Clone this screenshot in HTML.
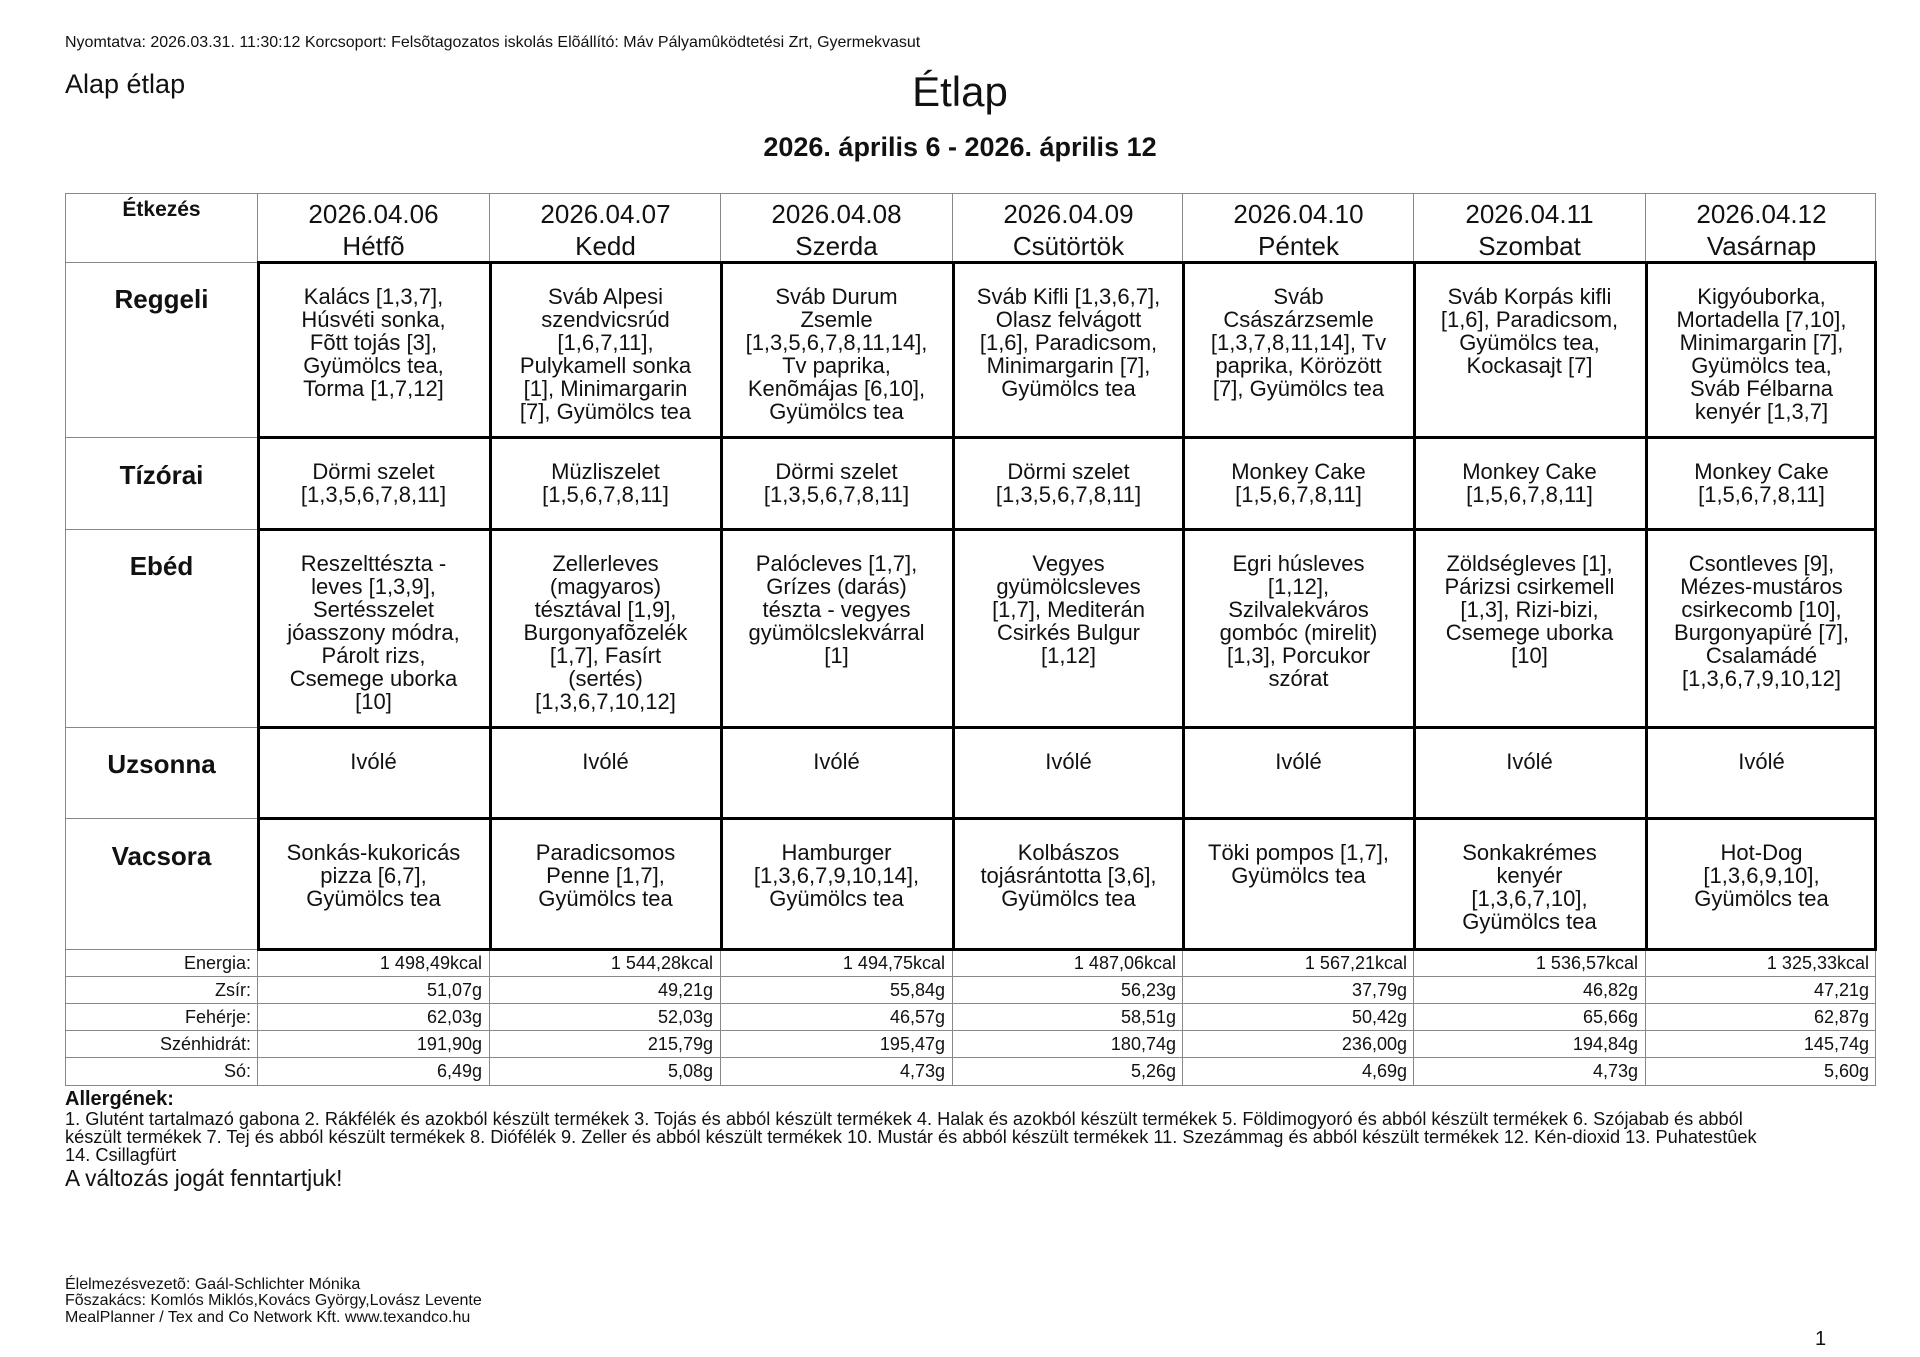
<!DOCTYPE html>
<html><head><meta charset="utf-8">
<style>
*{margin:0;padding:0;box-sizing:border-box}
body{width:1920px;height:1357px;background:#fff;position:relative;overflow:hidden;font-family:"Liberation Sans",Arial,sans-serif;color:#111}
.a{position:absolute;white-space:nowrap}
.c{position:absolute;text-align:center;font-size:22px;line-height:23px;white-space:nowrap}
.l{position:absolute;text-align:center;font-weight:bold;font-size:26px;width:193px;left:65px}
.h{position:absolute;text-align:center;font-size:26px;line-height:32px;width:231px;top:198px}
.n{position:absolute;font-size:18px;line-height:27px;text-align:right;white-space:nowrap}
.g{position:absolute;background:#888}
.b{position:absolute;background:#000}
</style></head><body>
<div class="a" style="left:65px;top:34px;font-size:16px">Nyomtatva: 2026.03.31. 11:30:12 Korcsoport: Felsõtagozatos iskolás Elõállító: Máv Pályamûködtetési Zrt, Gyermekvasut</div>
<div class="a" style="left:65px;top:69px;font-size:27px">Alap étlap</div>
<div class="a" style="left:0;width:1920px;text-align:center;top:68px;font-size:42px">Étlap</div>
<div class="a" style="left:0;width:1920px;text-align:center;top:132px;font-size:27px;font-weight:bold">2026. április 6 - 2026. április 12</div>

<div class="g" style="left:65px;top:193px;width:1811px;height:1px"></div>
<div class="g" style="left:65px;top:262px;width:193px;height:1px"></div>
<div class="g" style="left:65px;top:437px;width:193px;height:1px"></div>
<div class="g" style="left:65px;top:529px;width:193px;height:1px"></div>
<div class="g" style="left:65px;top:727px;width:193px;height:1px"></div>
<div class="g" style="left:65px;top:818px;width:193px;height:1px"></div>
<div class="g" style="left:65px;top:949px;width:1811px;height:1px"></div>
<div class="g" style="left:65px;top:976px;width:1811px;height:1px"></div>
<div class="g" style="left:65px;top:1003px;width:1811px;height:1px"></div>
<div class="g" style="left:65px;top:1030px;width:1811px;height:1px"></div>
<div class="g" style="left:65px;top:1057px;width:1811px;height:1px"></div>
<div class="g" style="left:65px;top:1085px;width:1811px;height:1px"></div>
<div class="g" style="left:65px;top:193px;width:1px;height:893px"></div>
<div class="g" style="left:257px;top:193px;width:1px;height:893px"></div>
<div class="g" style="left:489px;top:193px;width:1px;height:893px"></div>
<div class="g" style="left:720px;top:193px;width:1px;height:893px"></div>
<div class="g" style="left:952px;top:193px;width:1px;height:893px"></div>
<div class="g" style="left:1182px;top:193px;width:1px;height:893px"></div>
<div class="g" style="left:1413px;top:193px;width:1px;height:893px"></div>
<div class="g" style="left:1645px;top:193px;width:1px;height:893px"></div>
<div class="g" style="left:1875px;top:193px;width:1px;height:893px"></div>
<div class="b" style="left:257px;top:261px;width:1620px;height:3px"></div>
<div class="b" style="left:257px;top:436px;width:1620px;height:3px"></div>
<div class="b" style="left:257px;top:528px;width:1620px;height:3px"></div>
<div class="b" style="left:257px;top:726px;width:1620px;height:3px"></div>
<div class="b" style="left:257px;top:817px;width:1620px;height:3px"></div>
<div class="b" style="left:257px;top:948px;width:1620px;height:3px"></div>
<div class="b" style="left:257px;top:261px;width:3px;height:690px"></div>
<div class="b" style="left:489px;top:261px;width:3px;height:690px"></div>
<div class="b" style="left:720px;top:261px;width:3px;height:690px"></div>
<div class="b" style="left:952px;top:261px;width:3px;height:690px"></div>
<div class="b" style="left:1182px;top:261px;width:3px;height:690px"></div>
<div class="b" style="left:1413px;top:261px;width:3px;height:690px"></div>
<div class="b" style="left:1645px;top:261px;width:3px;height:690px"></div>
<div class="b" style="left:1874px;top:261px;width:3px;height:690px"></div>

<div class="l" style="top:198px;font-size:21px">Étkezés</div>
<div class="h" style="left:258px">2026.04.06<br>Hétfõ</div>
<div class="h" style="left:490px">2026.04.07<br>Kedd</div>
<div class="h" style="left:721px">2026.04.08<br>Szerda</div>
<div class="h" style="left:953px">2026.04.09<br>Csütörtök</div>
<div class="h" style="left:1183px">2026.04.10<br>Péntek</div>
<div class="h" style="left:1414px">2026.04.11<br>Szombat</div>
<div class="h" style="left:1646px">2026.04.12<br>Vasárnap</div>

<div class="l" style="top:284px">Reggeli</div>
<div class="l" style="top:460px">Tízórai</div>
<div class="l" style="top:551px">Ebéd</div>
<div class="l" style="top:749px">Uzsonna</div>
<div class="l" style="top:841px">Vacsora</div>

<div class="c" style="left:258px;width:231px;top:285px">Kalács [1,3,7],<br>Húsvéti sonka,<br>Fõtt tojás [3],<br>Gyümölcs tea,<br>Torma [1,7,12]</div>
<div class="c" style="left:490px;width:231px;top:285px">Sváb Alpesi<br>szendvicsrúd<br>[1,6,7,11],<br>Pulykamell sonka<br>[1], Minimargarin<br>[7], Gyümölcs tea</div>
<div class="c" style="left:721px;width:231px;top:285px">Sváb Durum<br>Zsemle<br>[1,3,5,6,7,8,11,14],<br>Tv paprika,<br>Kenõmájas [6,10],<br>Gyümölcs tea</div>
<div class="c" style="left:953px;width:231px;top:285px">Sváb Kifli [1,3,6,7],<br>Olasz felvágott<br>[1,6], Paradicsom,<br>Minimargarin [7],<br>Gyümölcs tea</div>
<div class="c" style="left:1183px;width:231px;top:285px">Sváb<br>Császárzsemle<br>[1,3,7,8,11,14], Tv<br>paprika, Körözött<br>[7], Gyümölcs tea</div>
<div class="c" style="left:1414px;width:231px;top:285px">Sváb Korpás kifli<br>[1,6], Paradicsom,<br>Gyümölcs tea,<br>Kockasajt [7]</div>
<div class="c" style="left:1646px;width:231px;top:285px">Kigyóuborka,<br>Mortadella [7,10],<br>Minimargarin [7],<br>Gyümölcs tea,<br>Sváb Félbarna<br>kenyér [1,3,7]</div>

<div class="c" style="left:258px;width:231px;top:460px">Dörmi szelet<br>[1,3,5,6,7,8,11]</div>
<div class="c" style="left:490px;width:231px;top:460px">Müzliszelet<br>[1,5,6,7,8,11]</div>
<div class="c" style="left:721px;width:231px;top:460px">Dörmi szelet<br>[1,3,5,6,7,8,11]</div>
<div class="c" style="left:953px;width:231px;top:460px">Dörmi szelet<br>[1,3,5,6,7,8,11]</div>
<div class="c" style="left:1183px;width:231px;top:460px">Monkey Cake<br>[1,5,6,7,8,11]</div>
<div class="c" style="left:1414px;width:231px;top:460px">Monkey Cake<br>[1,5,6,7,8,11]</div>
<div class="c" style="left:1646px;width:231px;top:460px">Monkey Cake<br>[1,5,6,7,8,11]</div>

<div class="c" style="left:258px;width:231px;top:552px">Reszelttészta -<br>leves [1,3,9],<br>Sertésszelet<br>jóasszony módra,<br>Párolt rizs,<br>Csemege uborka<br>[10]</div>
<div class="c" style="left:490px;width:231px;top:552px">Zellerleves<br>(magyaros)<br>tésztával [1,9],<br>Burgonyafõzelék<br>[1,7], Fasírt<br>(sertés)<br>[1,3,6,7,10,12]</div>
<div class="c" style="left:721px;width:231px;top:552px">Palócleves [1,7],<br>Grízes (darás)<br>tészta - vegyes<br>gyümölcslekvárral<br>[1]</div>
<div class="c" style="left:953px;width:231px;top:552px">Vegyes<br>gyümölcsleves<br>[1,7], Mediterán<br>Csirkés Bulgur<br>[1,12]</div>
<div class="c" style="left:1183px;width:231px;top:552px">Egri húsleves<br>[1,12],<br>Szilvalekváros<br>gombóc (mirelit)<br>[1,3], Porcukor<br>szórat</div>
<div class="c" style="left:1414px;width:231px;top:552px">Zöldségleves [1],<br>Párizsi csirkemell<br>[1,3], Rizi-bizi,<br>Csemege uborka<br>[10]</div>
<div class="c" style="left:1646px;width:231px;top:552px">Csontleves [9],<br>Mézes-mustáros<br>csirkecomb [10],<br>Burgonyapüré [7],<br>Csalamádé<br>[1,3,6,7,9,10,12]</div>

<div class="c" style="left:258px;width:231px;top:750px">Ivólé</div>
<div class="c" style="left:490px;width:231px;top:750px">Ivólé</div>
<div class="c" style="left:721px;width:231px;top:750px">Ivólé</div>
<div class="c" style="left:953px;width:231px;top:750px">Ivólé</div>
<div class="c" style="left:1183px;width:231px;top:750px">Ivólé</div>
<div class="c" style="left:1414px;width:231px;top:750px">Ivólé</div>
<div class="c" style="left:1646px;width:231px;top:750px">Ivólé</div>

<div class="c" style="left:258px;width:231px;top:841px">Sonkás-kukoricás<br>pizza [6,7],<br>Gyümölcs tea</div>
<div class="c" style="left:490px;width:231px;top:841px">Paradicsomos<br>Penne [1,7],<br>Gyümölcs tea</div>
<div class="c" style="left:721px;width:231px;top:841px">Hamburger<br>[1,3,6,7,9,10,14],<br>Gyümölcs tea</div>
<div class="c" style="left:953px;width:231px;top:841px">Kolbászos<br>tojásrántotta [3,6],<br>Gyümölcs tea</div>
<div class="c" style="left:1183px;width:231px;top:841px">Töki pompos [1,7],<br>Gyümölcs tea</div>
<div class="c" style="left:1414px;width:231px;top:841px">Sonkakrémes<br>kenyér<br>[1,3,6,7,10],<br>Gyümölcs tea</div>
<div class="c" style="left:1646px;width:231px;top:841px">Hot-Dog<br>[1,3,6,9,10],<br>Gyümölcs tea</div>

<div class="n" style="left:65px;width:186px;top:950px">Energia:<br>Zsír:<br>Fehérje:<br>Szénhidrát:<br>Só:</div>
<div class="n" style="left:258px;width:224px;top:950px">1 498,49kcal<br>51,07g<br>62,03g<br>191,90g<br>6,49g</div>
<div class="n" style="left:490px;width:223px;top:950px">1 544,28kcal<br>49,21g<br>52,03g<br>215,79g<br>5,08g</div>
<div class="n" style="left:721px;width:224px;top:950px">1 494,75kcal<br>55,84g<br>46,57g<br>195,47g<br>4,73g</div>
<div class="n" style="left:953px;width:223px;top:950px">1 487,06kcal<br>56,23g<br>58,51g<br>180,74g<br>5,26g</div>
<div class="n" style="left:1183px;width:224px;top:950px">1 567,21kcal<br>37,79g<br>50,42g<br>236,00g<br>4,69g</div>
<div class="n" style="left:1414px;width:224px;top:950px">1 536,57kcal<br>46,82g<br>65,66g<br>194,84g<br>4,73g</div>
<div class="n" style="left:1646px;width:223px;top:950px">1 325,33kcal<br>47,21g<br>62,87g<br>145,74g<br>5,60g</div>

<div class="a" style="left:65px;top:1088px;font-size:20px;font-weight:bold">Allergének:</div>
<div class="a" style="left:65px;top:1110px;font-size:18.2px;line-height:18px">1. Glutént tartalmazó gabona 2. Rákfélék és azokból készült termékek 3. Tojás és abból készült termékek 4. Halak és azokból készült termékek 5. Földimogyoró és abból készült termékek 6. Szójabab és abból<br>készült termékek 7. Tej és abból készült termékek 8. Diófélék 9. Zeller és abból készült termékek 10. Mustár és abból készült termékek 11. Szezámmag és abból készült termékek 12. Kén-dioxid 13. Puhatestûek<br>14. Csillagfürt</div>
<div class="a" style="left:65px;top:1165px;font-size:22.7px">A változás jogát fenntartjuk!</div>

<div class="a" style="left:65px;top:1277px;font-size:16px;line-height:16.3px">Élelmezésvezetõ: Gaál-Schlichter Mónika<br>Fõszakács: Komlós Miklós,Kovács György,Lovász Levente<br>MealPlanner / Tex and Co Network Kft. www.texandco.hu</div>
<div class="a" style="left:1815px;top:1328px;font-size:20px">1</div>
</body></html>
